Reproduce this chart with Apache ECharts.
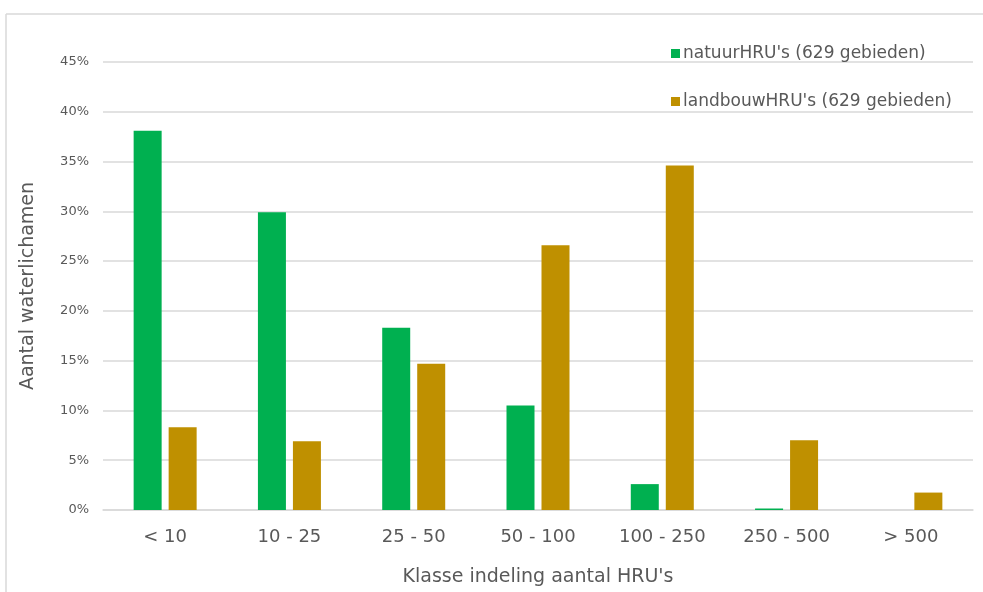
<!DOCTYPE html>
<html>
<head>
<meta charset="utf-8">
<script src="https://cdn.jsdelivr.net/npm/echarts@6/dist/echarts.min.js"></script>
<style>
  html, body { margin: 0; padding: 0; background: #ffffff; }
  #chart { width: 983px; height: 592px; }
</style>
</head>
<body>
<div id="chart"></div>
<script>
// Size classes (number of HRUs per water body)
const categories = ['< 10', '10 - 25', '25 - 50', '50 - 100', '100 - 250', '250 - 500', '> 500'];

// Share of water bodies per class, in percent
const natuurValues = [38.1, 29.9, 18.3, 10.5, 2.6, 0.15, 0];
const landbouwValues = [8.3, 6.9, 14.7, 26.6, 34.6, 7.0, 1.75];

const seriesNames = ["natuurHRU's (629 gebieden)", "landbouwHRU's (629 gebieden)"];

const yAxisTitle = 'Aantal waterlichamen';
const xAxisTitle = "Klasse indeling aantal HRU's";

const FONT = "'DejaVu Sans', Verdana, sans-serif";
const TEXT = '#595959';

const chart = echarts.init(document.getElementById('chart'), null, { renderer: 'canvas' });

chart.setOption({
  backgroundColor: '#ffffff',
  animation: false,
  textStyle: { fontFamily: FONT, color: TEXT },
  // Chart-area frame: only its left and top edges fall inside the page
  graphic: [
    {
      type: 'line',
      shape: { x1: 6, y1: 14, x2: 983, y2: 14 },
      style: { stroke: '#d9d9d9', lineWidth: 1.5 },
      silent: true
    },
    {
      type: 'line',
      shape: { x1: 6, y1: 14, x2: 6, y2: 592 },
      style: { stroke: '#d9d9d9', lineWidth: 1.5 },
      silent: true
    }
  ],
  grid: { left: 103, right: 10, top: 62, bottom: 81, containLabel: false },
  legend: {
    orient: 'vertical',
    left: 666,
    top: 40,
    itemWidth: 9,
    itemHeight: 9,
    itemGap: 31,
    icon: 'rect',
    textStyle: { fontFamily: FONT, fontSize: 17, color: TEXT, padding: [0, 0, 0, -2] },
    data: seriesNames
  },
  xAxis: {
    type: 'category',
    data: categories,
    name: xAxisTitle,
    nameLocation: 'middle',
    nameGap: 58,
    nameTextStyle: { fontFamily: FONT, fontSize: 19, color: TEXT },
    axisLine: { lineStyle: { color: '#d9d9d9', width: 1.5 } },
    axisTick: { show: false },
    axisLabel: { fontFamily: FONT, fontSize: 18, color: TEXT, margin: 18 }
  },
  yAxis: {
    type: 'value',
    min: 0,
    max: 45,
    interval: 5,
    name: yAxisTitle,
    nameLocation: 'middle',
    nameGap: 65,
    nameTextStyle: { fontFamily: FONT, fontSize: 19, color: TEXT },
    axisLine: { show: false },
    axisTick: { show: false },
    axisLabel: {
      fontFamily: FONT, fontSize: 13, color: TEXT,
      margin: 14, align: 'right',
      formatter: '{value}%'
    },
    splitLine: { lineStyle: { color: '#d9d9d9', width: 1.5 } }
  },
  series: [
    {
      name: seriesNames[0],
      type: 'bar',
      data: natuurValues,
      barWidth: 28,
      barGap: '25%',
      itemStyle: { color: '#00b050' }
    },
    {
      name: seriesNames[1],
      type: 'bar',
      data: landbouwValues,
      barWidth: 28,
      barGap: '25%',
      itemStyle: { color: '#bf9000' }
    }
  ]
});
</script>
</body>
</html>
